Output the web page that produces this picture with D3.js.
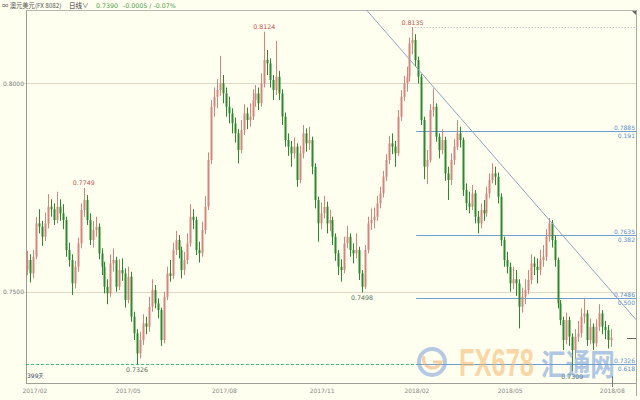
<!DOCTYPE html>
<html><head><meta charset="utf-8">
<script src="https://cdn.jsdelivr.net/npm/d3@7"></script>
<style>html,body{margin:0;padding:0;background:#fffff0;}svg{display:block;}</style>
</head><body>
<svg id="c" width="640" height="400"></svg>
<script>
const opens=[0.7552,0.7576,0.7544,0.7584,0.7664,0.7656,0.7632,0.7664,0.7704,0.7698,
0.7672,0.7704,0.7688,0.7672,0.7600,0.7576,0.7520,0.7560,0.7616,0.7696,
0.7720,0.7672,0.7624,0.7648,0.7656,0.7592,0.7560,0.7512,0.7496,0.7568,
0.7576,0.7512,0.7552,0.7544,0.7480,0.7536,0.7440,0.7400,0.7352,0.7384,
0.7424,0.7416,0.7464,0.7504,0.7472,0.7456,0.7384,0.7488,0.7544,0.7538,
0.7600,0.7624,0.7600,0.7552,0.7576,0.7616,0.7680,0.7672,0.7600,0.7592,
0.7648,0.7704,0.7816,0.7944,0.7968,0.7984,0.8000,0.7976,0.7944,0.7928,
0.7904,0.7880,0.7840,0.7888,0.7928,0.7912,0.7920,0.7960,0.7976,0.7952,
0.8000,0.8056,0.8048,0.8008,0.7984,0.8016,0.7976,0.7920,0.7864,0.7848,
0.7832,0.7848,0.7768,0.7832,0.7880,0.7856,0.7864,0.7800,0.7720,0.7664,
0.7688,0.7704,0.7664,0.7672,0.7632,0.7592,0.7560,0.7552,0.7616,0.7632,
0.7600,0.7592,0.7600,0.7544,0.7512,0.7600,0.7664,0.7672,0.7680,0.7712,
0.7736,0.7776,0.7816,0.7856,0.7848,0.7832,0.7920,0.7968,0.8000,0.8016,
0.8096,0.8104,0.8056,0.8016,0.7912,0.7800,0.7816,0.7936,0.7944,0.7872,
0.7840,0.7864,0.7784,0.7768,0.7816,0.7848,0.7880,0.7864,0.7744,0.7712,
0.7704,0.7736,0.7680,0.7664,0.7696,0.7688,0.7736,0.7768,0.7784,0.7776,
0.7728,0.7624,0.7576,0.7560,0.7520,0.7530,0.7520,0.7464,0.7488,0.7504,
0.7528,0.7568,0.7560,0.7552,0.7576,0.7584,0.7632,0.7664,0.7624,0.7576,
0.7472,0.7432,0.7384,0.7432,0.7392,0.7360,0.7392,0.7400,0.7440,0.7448,
0.7384,0.7416,0.7376,0.7416,0.7448,0.7416,0.7408,0.7384];
const highs=[0.7598,0.7590,0.7600,0.7680,0.7698,0.7670,0.7690,0.7734,0.7722,0.7712,
0.7740,0.7722,0.7710,0.7680,0.7618,0.7590,0.7574,0.7630,0.7712,0.7749,
0.7732,0.7688,0.7670,0.7680,0.7664,0.7604,0.7572,0.7530,0.7590,0.7604,
0.7584,0.7578,0.7580,0.7556,0.7560,0.7548,0.7452,0.7410,0.7404,0.7446,
0.7440,0.7488,0.7530,0.7516,0.7484,0.7462,0.7500,0.7560,0.7576,0.7618,
0.7646,0.7636,0.7608,0.7596,0.7640,0.7710,0.7698,0.7680,0.7620,0.7668,
0.7730,0.7834,0.7960,0.7990,0.8010,0.8066,0.8020,0.7990,0.7968,0.7940,
0.7918,0.7890,0.7912,0.7950,0.7942,0.7952,0.7986,0.7996,0.7990,0.8024,
0.8124,0.8080,0.8060,0.8020,0.8102,0.8030,0.7986,0.7930,0.7880,0.7862,
0.7870,0.7856,0.7850,0.7900,0.7892,0.7896,0.7872,0.7808,0.7728,0.7714,
0.7730,0.7716,0.7696,0.7680,0.7640,0.7600,0.7578,0.7632,0.7658,0.7640,
0.7616,0.7640,0.7608,0.7552,0.7612,0.7680,0.7700,0.7702,0.7730,0.7752,
0.7790,0.7830,0.7874,0.7880,0.7862,0.7936,0.7984,0.8018,0.8040,0.8110,
0.8135,0.8118,0.8064,0.8022,0.7920,0.7840,0.7950,0.7988,0.7952,0.7880,
0.7890,0.7872,0.7800,0.7832,0.7866,0.7912,0.7896,0.7870,0.7760,0.7740,
0.7756,0.7744,0.7694,0.7712,0.7720,0.7752,0.7784,0.7808,0.7800,0.7786,
0.7736,0.7632,0.7596,0.7570,0.7560,0.7552,0.7530,0.7510,0.7530,0.7552,
0.7590,0.7584,0.7580,0.7600,0.7612,0.7650,0.7677,0.7672,0.7636,0.7582,
0.7480,0.7440,0.7450,0.7440,0.7400,0.7410,0.7430,0.7460,0.7484,0.7456,
0.7436,0.7424,0.7434,0.7470,0.7456,0.7430,0.7420,0.7410];
const lows=[0.7540,0.7522,0.7532,0.7578,0.7640,0.7610,0.7622,0.7652,0.7680,0.7660,
0.7664,0.7670,0.7650,0.7584,0.7560,0.7492,0.7508,0.7548,0.7604,0.7680,
0.7660,0.7612,0.7606,0.7632,0.7578,0.7540,0.7496,0.7470,0.7488,0.7548,
0.7500,0.7504,0.7526,0.7462,0.7472,0.7428,0.7384,0.7326,0.7340,0.7372,
0.7398,0.7404,0.7452,0.7460,0.7436,0.7370,0.7376,0.7480,0.7524,0.7530,
0.7588,0.7580,0.7532,0.7540,0.7566,0.7608,0.7650,0.7588,0.7570,0.7584,
0.7638,0.7696,0.7806,0.7920,0.7940,0.7970,0.7952,0.7920,0.7904,0.7880,
0.7858,0.7808,0.7832,0.7876,0.7890,0.7896,0.7912,0.7944,0.7936,0.7944,
0.7990,0.8020,0.7990,0.7960,0.7972,0.7960,0.7900,0.7848,0.7826,0.7800,
0.7820,0.7752,0.7760,0.7820,0.7836,0.7840,0.7782,0.7700,0.7620,0.7650,
0.7676,0.7640,0.7646,0.7612,0.7574,0.7540,0.7524,0.7544,0.7604,0.7584,
0.7568,0.7580,0.7528,0.7498,0.7506,0.7592,0.7648,0.7652,0.7670,0.7700,
0.7726,0.7766,0.7806,0.7830,0.7800,0.7826,0.7910,0.7958,0.7980,0.8004,
0.8070,0.8040,0.8000,0.7900,0.7770,0.7758,0.7810,0.7920,0.7860,0.7820,
0.7830,0.7766,0.7720,0.7756,0.7804,0.7840,0.7846,0.7730,0.7696,0.7688,
0.7696,0.7664,0.7640,0.7652,0.7670,0.7680,0.7724,0.7760,0.7756,0.7712,
0.7610,0.7560,0.7544,0.7500,0.7506,0.7490,0.7412,0.7450,0.7470,0.7494,
0.7518,0.7540,0.7520,0.7540,0.7560,0.7574,0.7620,0.7606,0.7560,0.7460,
0.7420,0.7360,0.7374,0.7370,0.7309,0.7340,0.7380,0.7390,0.7424,0.7370,
0.7374,0.7360,0.7368,0.7406,0.7398,0.7386,0.7364,0.7368];
const closes=[0.7576,0.7544,0.7584,0.7664,0.7656,0.7632,0.7664,0.7704,0.7698,0.7672,
0.7704,0.7688,0.7672,0.7600,0.7576,0.7520,0.7560,0.7616,0.7696,0.7720,
0.7672,0.7624,0.7648,0.7656,0.7592,0.7560,0.7512,0.7496,0.7568,0.7576,
0.7512,0.7552,0.7544,0.7480,0.7536,0.7440,0.7400,0.7352,0.7384,0.7424,
0.7416,0.7464,0.7504,0.7472,0.7456,0.7384,0.7488,0.7544,0.7538,0.7600,
0.7624,0.7600,0.7552,0.7576,0.7616,0.7680,0.7672,0.7600,0.7592,0.7648,
0.7704,0.7816,0.7944,0.7968,0.7984,0.8000,0.7976,0.7944,0.7928,0.7904,
0.7880,0.7840,0.7888,0.7928,0.7912,0.7920,0.7960,0.7976,0.7952,0.8000,
0.8056,0.8048,0.8008,0.7984,0.8016,0.7976,0.7920,0.7864,0.7848,0.7832,
0.7848,0.7768,0.7832,0.7880,0.7856,0.7864,0.7800,0.7720,0.7664,0.7688,
0.7704,0.7664,0.7672,0.7632,0.7592,0.7560,0.7552,0.7616,0.7632,0.7600,
0.7592,0.7600,0.7544,0.7512,0.7600,0.7664,0.7672,0.7680,0.7712,0.7736,
0.7776,0.7816,0.7856,0.7848,0.7832,0.7920,0.7968,0.8000,0.8016,0.8096,
0.8104,0.8056,0.8016,0.7912,0.7800,0.7816,0.7936,0.7944,0.7872,0.7840,
0.7864,0.7784,0.7768,0.7816,0.7848,0.7880,0.7864,0.7744,0.7712,0.7704,
0.7736,0.7680,0.7664,0.7696,0.7688,0.7736,0.7768,0.7784,0.7776,0.7728,
0.7624,0.7576,0.7560,0.7520,0.7530,0.7520,0.7464,0.7488,0.7504,0.7528,
0.7568,0.7560,0.7552,0.7576,0.7584,0.7632,0.7664,0.7624,0.7576,0.7472,
0.7432,0.7384,0.7432,0.7392,0.7360,0.7392,0.7400,0.7440,0.7448,0.7384,
0.7416,0.7376,0.7416,0.7448,0.7416,0.7408,0.7384,0.7390];

// trading-day index of bar 0 and days per bar
const firstDay = -5, dayStep = 2;
const tickDays = [0, 63, 128, 194, 258, 321, 390];
const tickLabels = ["2017/02","2017/05","2017/08","2017/11","2018/02","2018/05","2018/08"];
const yTickValues = [0.8000, 0.7500];
const peakBars = [19, 80, 130];
const peakValues = [0.7749, 0.8124, 0.8135];
const troughBars = [37, 113, 184];
const troughValues = [0.7326, 0.7498, 0.7309];
const fibValues = [0.7885, 0.7635, 0.7486, 0.7326];
const fibRatios = ["0.191", "0.382", "0.500", "0.618"];
const fibTopValue = 0.8135;
const fibStartDay = 257.5, fibTopDay = 254.5;
const trendDays = [224, 406];
const trendValues = [0.8176, 0.7433];
const supportValue = 0.7326;
const lastPrice = 0.7390;
const headerName = "∞ 澳元美元(FX 8082)";
const headerPeriod = "日线∨";
const headerPrice = "0.7390";
const headerChange = "-0.0005 / -0.07%";
const dayCountLabel = "399天";

const svg = d3.select("#c");
const L = 26, R = 636, T = 10, B = 383;
const x = d3.scaleLinear().domain([-6, 406]).range([L, R]);
const y = d3.scaleLinear().domain([0.7281, 0.8176]).range([B, T]);
const font = "'DejaVu Sans', Verdana, sans-serif";

svg.append("rect").attr("width", 640).attr("height", 400).attr("fill", "#fffff0");

svg.append("defs").append("clipPath").attr("id", "plot")
  .append("rect").attr("x", L).attr("y", T).attr("width", R - L).attr("height", B - T);

// grid lines
svg.selectAll(".grid").data(yTickValues).join("line")
  .attr("x1", L - 2).attr("x2", R)
  .attr("y1", d => Math.round(y(d)) + 0.5).attr("y2", d => Math.round(y(d)) + 0.5)
  .attr("stroke", "#dcd8c4").attr("stroke-width", 1);

// y-axis labels
svg.selectAll(".ylab").data(yTickValues).join("text")
  .attr("x", L - 2).attr("y", d => y(d) + 2.2)
  .attr("text-anchor", "end").attr("font-family", font).attr("font-size", 6)
  .attr("fill", "#777").text(d => d.toFixed(4));

// frame
svg.append("line").attr("x1", L + 0.5).attr("x2", L + 0.5).attr("y1", T).attr("y2", B).attr("stroke", "#9a9a90");
svg.append("line").attr("x1", L).attr("x2", R).attr("y1", T + 0.5).attr("y2", T + 0.5).attr("stroke", "#b8b8b0");
svg.append("line").attr("x1", R + 0.5).attr("x2", R + 0.5).attr("y1", T).attr("y2", 396).attr("stroke", "#a8a8a0");
svg.append("line").attr("x1", L).attr("x2", R).attr("y1", B + 0.5).attr("y2", B + 0.5).attr("stroke", "#a0a098");
svg.append("path").attr("d", `M${R - 4},${T + 1}L${R},${T + 1}L${R},${T + 5}Z`).attr("fill", "#666");

// support dashed line
svg.append("line").attr("x1", L).attr("x2", R)
  .attr("y1", Math.round(y(supportValue)) + 0.5).attr("y2", Math.round(y(supportValue)) + 0.5)
  .attr("stroke", "#3fbf7f").attr("stroke-width", 1).attr("stroke-dasharray", "3,2");

// fib top dotted line
svg.append("line").attr("x1", x(fibTopDay)).attr("x2", R)
  .attr("y1", Math.round(y(fibTopValue)) + 0.5).attr("y2", Math.round(y(fibTopValue)) + 0.5)
  .attr("stroke", "#a8a8b0").attr("stroke-dasharray", "1,2");

// fib lines
const fibG = svg.append("g");
fibValues.forEach((v, i) => {
  const yy = Math.round(y(v)) + 0.5;
  fibG.append("line").attr("x1", x(fibStartDay)).attr("x2", R).attr("y1", yy).attr("y2", yy)
    .attr("stroke", "#6f9fd2").attr("stroke-width", 1);
  fibG.append("text").attr("x", R - 1).attr("y", yy - 2).attr("text-anchor", "end")
    .attr("font-family", font).attr("font-size", 6).attr("fill", "#5a8ccc").text(v.toFixed(4));
  fibG.append("text").attr("x", R - 1).attr("y", yy + 6.5).attr("text-anchor", "end")
    .attr("font-family", font).attr("font-size", 6).attr("fill", "#5a8ccc").text(fibRatios[i]);
});

// candles
const bars = d3.range(closes.length).map(i => ({
  i, o: opens[i], h: highs[i], l: lows[i], c: closes[i], day: firstDay + i * dayStep
}));
const upCol = "#d6857e", downCol = "#2c8a2e";
const cg = svg.append("g").attr("clip-path", "url(#plot)");
cg.selectAll(".wick").data(bars).join("line")
  .attr("x1", d => Math.round(x(d.day)) + 0.5).attr("x2", d => Math.round(x(d.day)) + 0.5)
  .attr("y1", d => y(d.h)).attr("y2", d => y(d.l))
  .attr("stroke", d => d.c >= d.o ? upCol : downCol).attr("stroke-width", 1);
cg.selectAll(".body").data(bars).join("rect")
  .attr("x", d => Math.round(x(d.day)) - 0.5)
  .attr("width", 2)
  .attr("y", d => y(Math.max(d.o, d.c)))
  .attr("height", d => Math.max(1, Math.abs(y(d.o) - y(d.c))))
  .attr("fill", d => d.c >= d.o ? upCol : downCol);

// trend line
svg.append("line").attr("clip-path", "url(#plot)")
  .attr("x1", x(trendDays[0])).attr("y1", y(trendValues[0]))
  .attr("x2", x(trendDays[1])).attr("y2", y(trendValues[1]))
  .attr("stroke", "#8aa4c0").attr("stroke-width", 1);

// last price marker
svg.append("line").attr("x1", R - 9).attr("x2", R)
  .attr("y1", Math.round(y(lastPrice)) + 0.5).attr("y2", Math.round(y(lastPrice)) + 0.5)
  .attr("stroke", "#666").attr("stroke-width", 1);

// peak / trough labels
peakBars.forEach((b, i) => {
  svg.append("text").attr("x", x(firstDay + b * dayStep)).attr("y", y(peakValues[i]) - 2.5)
    .attr("text-anchor", "middle").attr("font-family", font).attr("font-size", 6.3)
    .attr("fill", "#c0504a").text(peakValues[i].toFixed(4));
});
troughBars.forEach((b, i) => {
  svg.append("text").attr("x", x(firstDay + b * dayStep)).attr("y", y(troughValues[i]) + 7.5)
    .attr("text-anchor", "middle").attr("font-family", font).attr("font-size", 6.3)
    .attr("fill", "#4f7058").text(troughValues[i].toFixed(4));
});

// x-axis labels
svg.selectAll(".xlab").data(tickDays).join("text")
  .attr("x", d => x(d)).attr("y", 393)
  .attr("text-anchor", "middle").attr("font-family", font).attr("font-size", 6)
  .attr("fill", "#888").text((d, i) => tickLabels[i]);
svg.append("line").attr("x1", Math.round(x(tickDays[6])) + 0.5).attr("x2", Math.round(x(tickDays[6])) + 0.5)
  .attr("y1", 376).attr("y2", 387).attr("stroke", "#777");

svg.append("text").attr("x", L + 1).attr("y", 378).attr("font-family", font).attr("font-size", 6)
  .attr("fill", "#334466").text(dayCountLabel);

// header
const hf = "'Noto Sans CJK SC', 'DejaVu Sans', sans-serif";
svg.append("text").attr("x", 2).attr("y", 8).attr("font-family", hf).attr("font-size", 6.3).attr("fill", "#555").text(headerName);
svg.append("text").attr("x", 69).attr("y", 8).attr("font-family", hf).attr("font-size", 6.5).attr("fill", "#333").text(headerPeriod);
svg.append("text").attr("x", 96).attr("y", 8).attr("font-family", font).attr("font-size", 6.3).attr("fill", "#4a9a4a").text(headerPrice);
svg.append("text").attr("x", 123).attr("y", 8).attr("font-family", font).attr("font-size", 6.3).attr("fill", "#4a9a4a").text(headerChange);

// watermark
const wm = svg.append("g").attr("opacity", 0.55);
wm.append("circle").attr("cx", 432).attr("cy", 362).attr("r", 13).attr("fill", "none")
  .attr("stroke", "#7aa0d8").attr("stroke-width", 4);
wm.append("path").attr("d", "M424,356 A9,9 0 1 0 441,362 L433,362")
  .attr("fill", "none").attr("stroke", "#f2a860").attr("stroke-width", 3);
wm.append("text").attr("x", 459).attr("y", 376).attr("font-family", "'Liberation Sans Narrow', 'Liberation Sans', sans-serif")
  .attr("font-weight", "bold").attr("font-size", 38).attr("fill", "#f7b46a")
  .attr("textLength", 75).attr("lengthAdjust", "spacingAndGlyphs").text("FX678");
wm.append("text").attr("x", 541).attr("y", 375).attr("font-family", "'Noto Sans CJK SC', sans-serif")
  .attr("font-weight", "bold").attr("font-size", 30).attr("fill", "#6f9ad8")
  .attr("textLength", 74).attr("lengthAdjust", "spacingAndGlyphs").text("汇通网");
</script>
</body></html>
